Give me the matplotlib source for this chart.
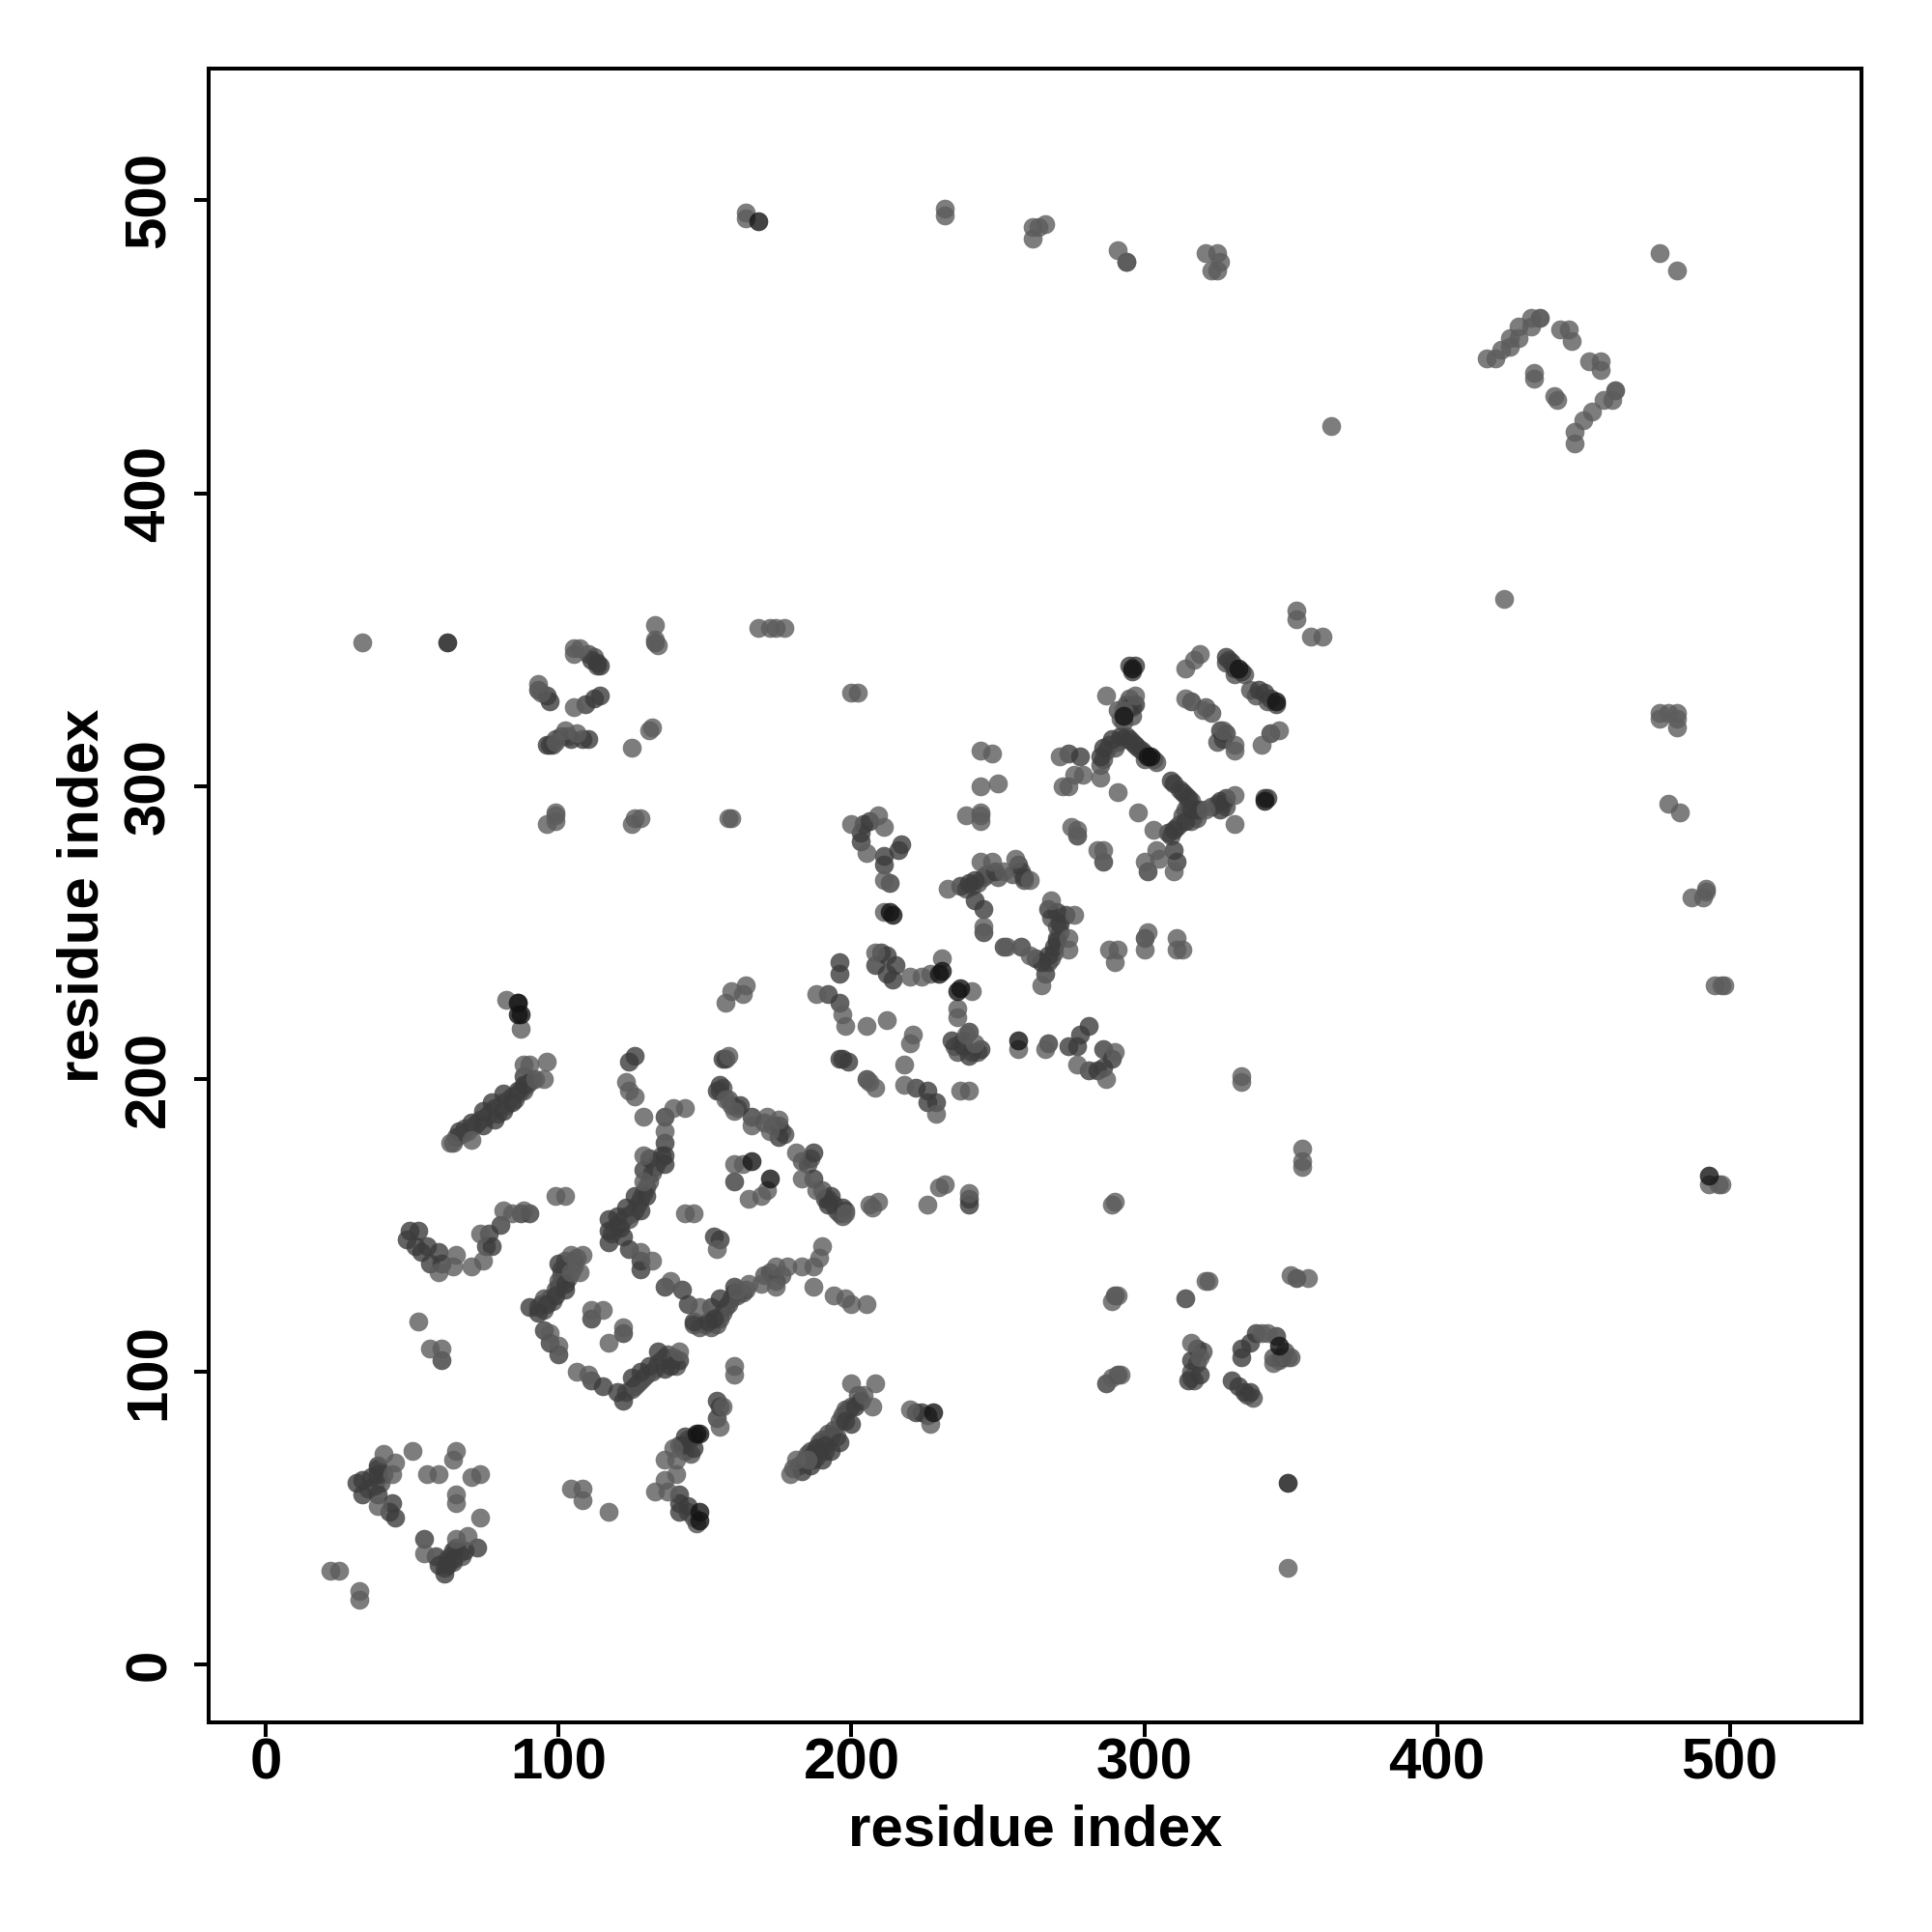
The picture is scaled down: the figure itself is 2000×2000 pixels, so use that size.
import matplotlib
matplotlib.use("Agg")
import matplotlib.pyplot as plt

plt.rcParams['font.family'] = ['Liberation Sans', 'DejaVu Sans']
plt.rcParams['font.weight'] = 'bold'

# contacts, split by how dark the dot is
contacts_light = [
    (164, 496), (164, 494), (232, 497), (232, 495), (262, 487), (262, 491), (264, 491), (266, 492),
    (291, 483), (294, 479), (321, 482), (323, 476), (325, 476), (325, 482), (326, 479), (476, 482), (482, 476),
    (417, 446), (420, 446), (422, 449), (425, 450), (425, 453), (428, 453), (428, 457), (432, 457), (432, 460),
    (442, 456), (445, 456), (446, 452), (452, 445), (456, 445), (456, 442), (460, 432), (457, 432), (453, 428),
    (450, 425), (447, 421), (447, 417), (433, 441), (433, 439), (440, 433), (441, 432),
    (364, 423), (423, 364), (352, 360), (352, 357), (357, 351), (361, 351),
    (476, 323), (476, 325), (479, 325), (482, 325), (482, 323), (482, 320), (479, 294), (483, 291),
    (487, 262), (491, 262), (492, 264), (492, 265), (495, 232), (497, 232), (498, 232), (493, 164), (496, 164), (497, 164),
    (33, 349), (105, 347), (105, 345), (107, 347), (93, 335), (94, 332), (105, 327), (99, 315), (102, 319), (106, 318),
    (125, 313), (131, 319), (132, 320), (133, 355), (133, 350), (134, 348),
    (96, 287), (99, 288), (99, 290), (99, 291), (125, 287), (126, 289), (128, 289), (158, 289), (159, 289),
    (168, 354), (172, 354), (174, 354), (177, 354), (200, 332), (202, 332),
    (319, 345), (317, 343), (314, 340), (314, 330), (320, 326), (327, 319), (331, 314), (331, 312),
    (346, 319), (340, 314), (297, 331), (287, 331), (293, 326), (292, 323),
    (271, 310), (276, 304), (279, 304), (285, 303), (272, 300), (274, 300), (244, 312), (248, 311), (244, 300), (250, 301),
    (291, 298), (298, 291), (303, 285), (321, 292), (331, 297), (331, 287),
    (304, 278), (305, 275), (300, 274), (310, 271), (277, 285), (275, 286), (284, 278), (286, 278),
    (244, 291), (239, 290), (244, 288),
    (233, 265), (244, 274), (248, 274), (252, 271), (256, 275), (261, 268), (245, 252),
    (268, 261), (276, 256), (274, 248), (274, 244), (265, 232), (253, 245), (261, 242),
    (291, 244), (288, 244), (290, 240), (301, 250), (300, 244), (311, 248), (311, 244), (313, 244),
    (200, 287), (209, 290), (211, 286), (205, 277), (211, 268), (211, 257), (244, 290),
    (208, 243), (231, 241), (220, 235), (224, 235), (227, 236), (241, 230), (236, 224), (236, 221), (239, 215), (242, 212),
    (188, 229), (197, 222), (198, 218), (205, 218), (212, 220), (221, 215), (220, 212), (218, 205),
    (206, 199), (208, 197), (218, 198), (229, 188), (237, 196), (240, 196),
    (257, 210), (266, 210), (277, 205), (287, 200), (290, 209), (333, 201), (333, 199),
    (290, 158), (289, 157), (240, 161), (226, 157), (230, 163), (232, 164), (209, 158), (207, 156),
    (82, 227), (87, 217), (63, 178), (70, 179), (96, 206), (88, 205), (90, 205), (95, 200), (92, 200),
    (65, 140), (64, 136), (70, 136), (59, 134), (74, 138), (73, 147), (81, 155), (84, 154), (88, 155),
    (99, 160), (102, 160), (52, 117), (56, 108), (60, 108),
    (108, 140), (104, 140), (107, 134), (104, 134), (97, 113), (100, 109), (111, 121), (115, 121), (117, 110), (122, 115),
    (106, 100), (110, 99), (141, 107), (160, 102), (160, 99), (156, 88), (155, 81),
    (143, 190), (139, 190), (136, 182), (129, 174), (129, 187), (129, 165), (123, 199), (126, 194), (124, 196),
    (164, 232), (163, 229), (157, 226), (159, 230), (158, 208),
    (166, 184), (171, 187), (175, 186), (172, 182), (157, 193), (160, 189), (181, 175), (183, 166), (188, 162), (198, 154),
    (160, 171), (163, 171), (165, 159), (169, 160), (171, 162), (143, 154), (146, 154), (154, 142),
    (138, 131), (132, 138), (128, 141), (148, 122), (161, 128), (165, 130), (169, 130), (174, 129), (174, 136), (178, 136),
    (183, 136), (187, 136), (189, 139), (190, 143), (187, 129), (194, 126), (198, 125), (200, 123), (205, 123), (206, 157),
    (179, 65), (181, 70), (185, 70), (200, 96), (207, 88), (208, 96), (204, 92), (220, 87), (227, 82),
    (139, 74), (136, 70), (140, 70), (136, 63), (140, 65), (133, 59), (137, 59),
    (104, 60), (108, 60), (108, 56), (117, 52), (22, 32), (25, 32), (32, 25), (32, 22),
    (50, 73), (65, 73), (64, 70), (55, 65), (59, 65), (70, 64), (73, 65), (65, 58), (65, 55), (73, 50),
    (40, 72), (44, 69), (43, 65), (38, 54), (54, 38), (69, 44), (65, 43),
    (354, 176), (354, 172), (354, 170), (289, 124), (291, 126), (289, 98), (292, 99), (350, 133), (356, 132), (349, 33),
    (321, 131), (322, 131), (319, 105), (316, 110), (340, 113), (342, 113), (344, 103), (349, 105),
]
contacts_mid = [
    (294, 479), (435, 460), (461, 435), (111, 343), (113, 342), (114, 341), (93, 333), (96, 331), (97, 329), (109, 328), (112, 330), (114, 331),
    (96, 314), (97, 314), (101, 317), (104, 316), (108, 316), (110, 316), (133, 349),
    (295, 341), (297, 341), (296, 339), (328, 344), (330, 342), (331, 340), (333, 339),
    (339, 333), (341, 332), (343, 330), (345, 328), (316, 329), (326, 319), (328, 318), (327, 316), (343, 318),
    (297, 328), (295, 327), (285, 310), (286, 313), (289, 316), (292, 317), (295, 316), (297, 314), (299, 312),
    (274, 311), (278, 310), (309, 302), (310, 301), (313, 298), (315, 296), (316, 292), (318, 292), (314, 288), (310, 285), (308, 284),
    (326, 295), (328, 296), (326, 292), (341, 296), (342, 296), (310, 278), (311, 274), (301, 271), (277, 283), (286, 274),
    (237, 266), (240, 267), (242, 268), (249, 271), (257, 273), (259, 269), (242, 261), (245, 258), (245, 250),
    (267, 258), (270, 257), (273, 256), (271, 253), (270, 247), (269, 245), (267, 242), (265, 240), (266, 236),
    (252, 245), (258, 245), (263, 241), (300, 248), (196, 240), (196, 236), (203, 284), (204, 287), (206, 288),
    (203, 281), (211, 276), (216, 278), (217, 280), (211, 273), (213, 267),
    (210, 243), (212, 242), (208, 239), (215, 239), (212, 236), (214, 234), (240, 216), (234, 213), (238, 211), (244, 210), (240, 208),
    (192, 229), (196, 226), (197, 207), (199, 206), (196, 207), (205, 200), (222, 197), (226, 196), (226, 192), (229, 192),
    (267, 212), (274, 211), (277, 211), (278, 215), (281, 218), (281, 203), (284, 203), (286, 204), (286, 210), (289, 207),
    (240, 159), (240, 157), (86, 226), (70, 185), (74, 189), (66, 182), (74, 184), (78, 186), (77, 192), (81, 189), (81, 195),
    (84, 192), (86, 196), (88, 198), (88, 201), (49, 148), (52, 148), (48, 145), (51, 143), (55, 143), (53, 141), (59, 141), (56, 137), (60, 137),
    (76, 147), (77, 143), (75, 143), (80, 150), (90, 154), (87, 154), (60, 104),
    (100, 137), (102, 130), (102, 128), (99, 126), (96, 123), (93, 120), (90, 122), (95, 114), (97, 110), (100, 106),
    (111, 118), (122, 113), (111, 97), (115, 95), (120, 93), (122, 90), (125, 98), (128, 100), (131, 102), (134, 107), (138, 102), (136, 101), (141, 104),
    (154, 90), (154, 84), (136, 187), (136, 178), (136, 174), (136, 171), (131, 173), (129, 169), (130, 160), (126, 160), (128, 155),
    (123, 156), (120, 153), (117, 152), (117, 148), (121, 149), (117, 144), (122, 146), (124, 142), (128, 138), (128, 135),
    (126, 208), (124, 206), (156, 207), (157, 207), (155, 198), (154, 196), (162, 191), (166, 187), (175, 184), (175, 180),
    (187, 175), (187, 166), (191, 159), (193, 160), (192, 157), (197, 156), (160, 165), (153, 146), (155, 145),
    (136, 129), (142, 128), (144, 123), (146, 117), (151, 117), (153, 118), (152, 122), (155, 125), (160, 129),
    (183, 66), (186, 68), (187, 72), (188, 74), (190, 70), (191, 75), (193, 73), (196, 76), (198, 83), (200, 82), (201, 88), (203, 90),
    (222, 86), (224, 86), (226, 85), (155, 88), (143, 78), (146, 74), (142, 75), (141, 58), (141, 55), (144, 54), (141, 52),
    (31, 62), (33, 63), (33, 58), (36, 64), (38, 68), (38, 65), (38, 58), (43, 55), (42, 52), (44, 50),
    (54, 43), (58, 37), (59, 34), (61, 31), (62, 34), (64, 36), (64, 39), (68, 39), (72, 40),
    (290, 126), (287, 96), (291, 99), (352, 132), (315, 97), (318, 108), (316, 104), (319, 99), (333, 108), (336, 110), (338, 113), (333, 105),
    (330, 97), (332, 95), (334, 93), (336, 93), (345, 112), (347, 105), (314, 125),
]
# the tightly packed runs where dots pile on top of each other
contacts_packed = [
    (64, 178), (65, 180), (67, 181), (68, 183), (69, 182), (71, 184), (72, 185), (73, 186), (75, 187), (76, 188), (77, 189),
    (78, 190), (79, 188), (80, 191), (81, 192), (82, 191), (83, 193), (84, 194), (85, 193), (86, 195), (87, 196), (88, 196),
    (89, 198), (90, 199), (91, 200),
    (180, 67), (182, 68), (184, 70), (185, 72), (186, 73), (187, 70), (188, 71), (189, 76), (190, 77), (191, 73), (192, 79),
    (193, 78), (194, 80), (195, 78), (196, 83), (197, 85), (198, 87), (199, 87), (200, 88), (202, 92),
    (93, 122), (94, 123), (95, 121), (95, 125), (97, 125), (98, 124), (99, 128), (100, 129), (100, 131), (101, 133), (101, 135),
    (102, 136), (102, 138), (103, 132), (104, 137), (105, 138), (105, 136), (106, 139),
    (123, 93), (125, 94), (126, 95), (127, 96), (128, 97), (129, 98), (130, 99), (132, 100), (133, 101), (134, 103), (135, 104),
    (136, 105), (137, 106), (138, 104), (139, 105), (140, 102),
    (118, 147), (119, 149), (120, 150), (121, 151), (122, 152), (123, 153), (124, 152), (125, 154), (126, 155), (127, 157),
    (128, 159), (129, 161), (130, 163), (131, 165), (132, 168), (133, 170), (134, 172), (135, 174),
    (146, 116), (148, 115), (150, 116), (152, 115), (154, 116), (155, 118), (156, 120), (157, 122), (158, 123), (159, 125),
    (160, 127), (161, 126), (163, 127), (164, 128), (170, 133), (172, 134), (174, 131), (176, 133),
    (155, 196), (156, 197), (158, 193), (159, 191), (161, 190), (170, 185), (173, 184), (176, 182), (177, 181),
    (183, 172), (185, 171), (186, 173), (190, 162), (192, 159), (194, 157), (195, 155), (196, 154), (197, 153), (198, 155),
    (287, 312), (288, 314), (290, 313), (291, 315), (293, 316), (294, 317), (296, 315), (298, 313), (300, 311), (303, 309),
    (304, 308), (300, 309), (286, 309), (285, 307), (291, 326), (294, 328), (295, 330), (296, 327), (296, 324), (293, 322),
    (309, 283), (311, 286), (312, 287), (313, 290), (314, 292), (315, 294), (316, 295), (317, 290), (318, 289), (312, 299),
    (314, 297), (316, 293), (316, 288), (319, 292), (323, 293), (325, 294), (327, 294), (328, 293),
    (318, 103), (320, 107), (316, 100), (316, 98), (317, 97), (335, 92), (337, 91),
    (239, 265), (241, 266), (243, 267), (245, 269), (246, 270), (250, 269), (255, 270), (258, 271), (259, 268),
    (268, 255), (270, 252), (271, 250), (270, 248), (269, 243), (267, 240), (268, 241),
    (236, 209), (237, 212), (238, 213), (241, 209), (243, 209), (235, 211),
    (61, 33), (62, 36), (63, 37), (64, 35), (65, 40), (66, 38), (67, 37), (39, 62), (40, 65), (38, 67), (37, 61), (35, 60),
    (141, 75), (143, 73), (144, 77), (145, 72), (146, 78), (144, 52), (146, 50), (147, 48),
    (350, 105), (348, 107), (344, 105), (346, 104), (110, 345), (112, 344), (113, 341), (98, 314), (99, 316), (103, 317),
    (328, 342), (329, 343), (331, 338), (334, 338), (336, 333), (338, 331), (342, 329), (321, 327), (323, 325), (325, 315),
]
contacts_dark = [
    (168, 493), (62, 349), (493, 167), (86, 226), (86, 222), (87, 222), (166, 172), (172, 166),
    (231, 237), (230, 236), (237, 231), (236, 230), (257, 213), (214, 256), (213, 257),
    (148, 52), (148, 49), (349, 62), (346, 109), (228, 86), (148, 79), (147, 79),
    (302, 310), (301, 310), (296, 340), (341, 295), (332, 340), (345, 329), (293, 324),
]
contact_groups = [(contacts_packed, '#505050'), (contacts_mid, '#3c3c3c'), (contacts_light, '#5c5c5c'), (contacts_dark, '#141414')]
tick_values = [0, 100, 200, 300, 400, 500]

fig = plt.figure(figsize=(10, 10), dpi=200)
ax = fig.add_axes([0.108, 0.1085, 0.8555, 0.856])

for points, shade in contact_groups:
    xs = [p[0] for p in points]
    ys = [p[1] for p in points]
    ax.scatter(xs, ys, s=50, color=shade, alpha=0.8, linewidths=0)

ax.set_xlim(-19.6, 545)
ax.set_ylim(-19.8, 545)
ax.set_xticks(tick_values)
ax.set_yticks(tick_values)
ax.tick_params(length=5.5, width=1.45, labelsize=21.6)
ax.tick_params(axis='x', pad=0)
ax.tick_params(axis='y', pad=6.5)
for label in ax.get_yticklabels():
    label.set_rotation(90)
    label.set_va('center')
for spine in ax.spines.values():
    spine.set_linewidth(1.45)

ax.set_xlabel('residue index', fontsize=21.6, fontweight='bold', labelpad=5)
ax.set_ylabel('residue index', fontsize=21.6, fontweight='bold', labelpad=5)

fig.savefig('out.png', dpi=200)
